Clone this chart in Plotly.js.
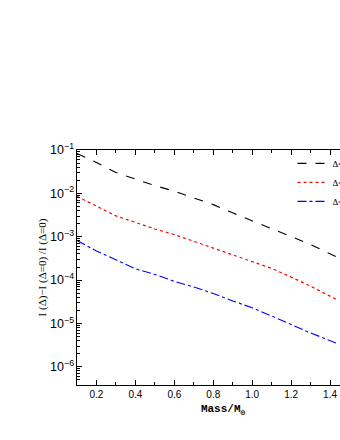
<!DOCTYPE html>
<html>
<head>
<meta charset="utf-8">
<script src="https://cdn.plot.ly/plotly-3.0.1.min.js"></script>
<style>
html,body{margin:0;padding:0;overflow:hidden;background:#fff;width:340px;height:440px;}
#chart{width:380px;height:440px;}
</style>
</head>
<body>
<div id="chart"></div>
<script>
const mass = [0.1, 0.2, 0.3, 0.4, 0.5, 0.6, 0.7, 0.8, 0.9, 1.0, 1.1, 1.2, 1.3, 1.43];
const seriesA = [0.0832, 0.0513, 0.0302, 0.0214, 0.0151, 0.0112, 0.00794, 0.0055, 0.00355, 0.00234, 0.00155, 0.00102, 0.00066, 0.000347];
const seriesB = [0.00851, 0.00501, 0.00302, 0.00214, 0.00151, 0.00112, 0.000776, 0.00055, 0.000372, 0.000263, 0.000186, 0.000117, 0.0000724, 0.0000363];
const seriesC = [0.000813, 0.000468, 0.000295, 0.000182, 0.000135, 0.0000933, 0.0000692, 0.000049, 0.0000331, 0.0000229, 0.0000148, 0.00000933, 0.00000603, 0.00000355];
const seriesNames = ["Δ=10<sup>-1</sup>", "Δ=10<sup>-2</sup>", "Δ=10<sup>-3</sup>"];

const traces = [
  {x: mass, y: seriesA, name: seriesNames[0], mode: 'lines', line: {color: '#000000', dash: 'dash', width: 1.1}},
  {x: mass, y: seriesB, name: seriesNames[1], mode: 'lines', line: {color: '#ff0000', dash: 'dot', width: 1.2}},
  {x: mass, y: seriesC, name: seriesNames[2], mode: 'lines', line: {color: '#0000ff', dash: 'dashdot', width: 1.1}}
];

const layout = {
  width: 380, height: 440,
  margin: {l: 77, r: 10.5, t: 150, b: 55},
  paper_bgcolor: '#ffffff', plot_bgcolor: '#ffffff',
  font: {family: 'Liberation Sans, Arial, sans-serif', size: 10, color: '#000'},
  showlegend: true,
  legend: {x: 0.738, y: 1.005, xanchor: 'left', yanchor: 'top', bgcolor: 'rgba(0,0,0,0)',
           font: {size: 9, family: 'Liberation Serif, serif'}, tracegroupgap: 0},
  xaxis: {
    range: [0.1, 1.6], tick0: 0.2, dtick: 0.2, tickformat: '.1f',
    ticks: 'inside', ticklen: 5, tickcolor: '#000', showline: true, linecolor: '#000', linewidth: 1,
    mirror: 'ticks', showgrid: false, zeroline: false,
    minor: {ticks: 'inside', ticklen: 3, tick0: 0.1, dtick: 0.1, tickcolor: '#000', showgrid: false},
    tickfont: {size: 10},
    title: {text: '<b>Mass/M<sub>⊙</sub></b>', font: {family: 'Liberation Mono, Courier New, monospace', size: 11}, standoff: 5}
  },
  yaxis: {
    type: 'log', range: [-6.42, -1], dtick: 1, exponentformat: 'power',
    ticks: 'inside', ticklen: 5, tickcolor: '#000', showline: true, linecolor: '#000', linewidth: 1,
    mirror: 'ticks', showgrid: false, zeroline: false,
    minor: {ticks: 'inside', ticklen: 3, dtick: 'D1', tickcolor: '#000', showgrid: false},
    tickfont: {size: 10},
    title: {text: 'I (Δ)−I (Δ=0) /I (Δ=0)', font: {family: 'Liberation Serif, Times New Roman, serif', size: 11}, standoff: 1}
  }
};

Plotly.newPlot('chart', traces, layout, {displayModeBar: false, staticPlot: true});
</script>
</body>
</html>
